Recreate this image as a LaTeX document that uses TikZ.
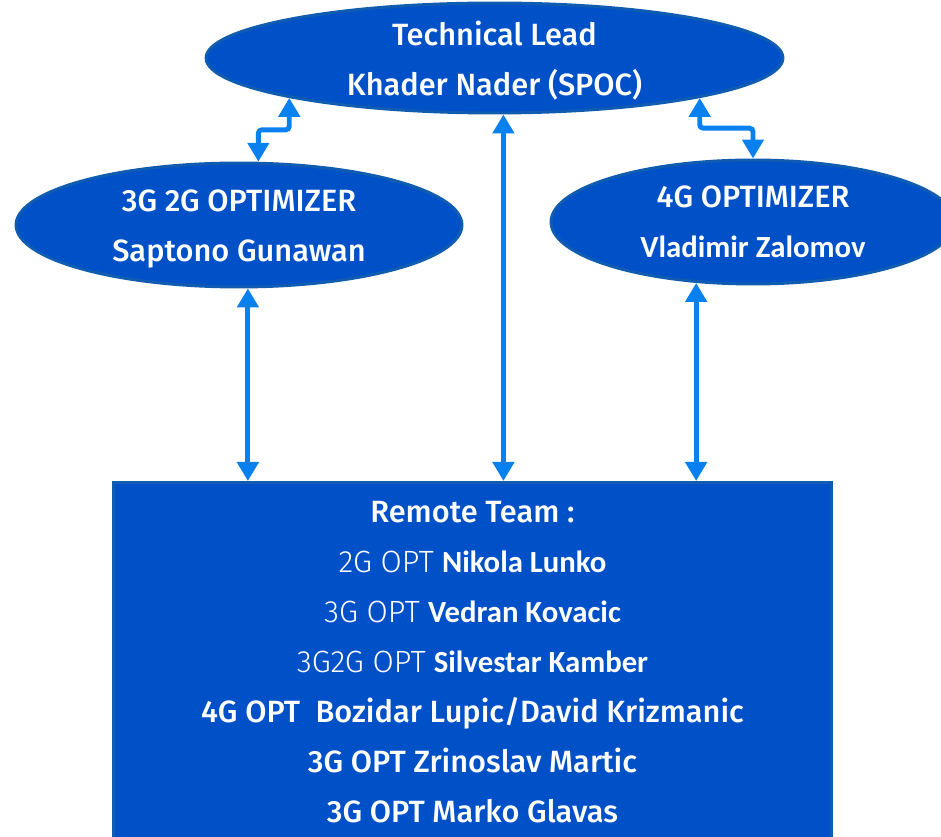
\documentclass[tikz,border=0pt]{standalone}
\usepackage{fontspec}
\setmainfont{Fira Sans}[BoldFont={Fira Sans Medium}]
\newfontfamily\lightfont{Fira Sans Light}
\newfontfamily\namefont{Carlito}
\usetikzlibrary{arrows.meta, calc, shapes.geometric}
\definecolor{teamBlue}{RGB}{0,80,200}
\definecolor{teamEdge}{RGB}{16,92,176}
\definecolor{linkBlue}{RGB}{8,128,240}
\newcommand{\person}[1]{{\namefont\bfseries\fontsize{17.5}{28.45}\selectfont #1}}
\newcommand{\opt}[1]{{\lightfont #1}}
\newcommand{\tall}{\rule{0pt}{17pt}}
\tikzset{
  role/.style={ellipse, draw=teamEdge, line width=1.7pt, fill=teamBlue, text=white,
    inner xsep=0pt, inner ysep=-6pt, align=center, font=\fontsize{17.5}{28.45}\selectfont\bfseries},
  team/.style={rectangle, draw=teamEdge, line width=1.7pt, fill=teamBlue, text=white,
    align=center, font=\fontsize{17.5}{28.45}\selectfont},
  link/.style={line width=2.8pt, linkBlue, rounded corners=2pt,
    {Triangle[width=0.42cm,length=0.38cm]}-{Triangle[width=0.42cm,length=0.38cm]}},
}

\begin{document}
\begin{tikzpicture}[x=0.02cm, y=-0.02cm]
  \path[use as bounding box] (0,0) rectangle (941,837);
  \clip (0,0) rectangle (941,837);

  \node[role, minimum width=11.54cm, minimum height=2.2cm] (lead) at (494.5,58)
    {\tall Technical Lead\\Khader Nader (SPOC)};
  \node[role, minimum width=8.92cm, minimum height=2.48cm] (opt3g) at (239,225)
    {\tall 3G 2G OPTIMIZER\\Saptono Gunawan};
  \node[role, minimum width=8.08cm, minimum height=2.48cm] (opt4g) at (753,222)
    {4G OPTIMIZER\\\person{Vladimir Zalomov}};
  \node[team, minimum width=14.38cm, minimum height=7.18cm, anchor=north] (remote) at (472.5,481)
    {{\bfseries Remote Team :}\\
     \opt{2G OPT} \person{Nikola Lunko}\\
     \opt{3G OPT} \person{Vedran Kovacic}\\
     \opt{3G2G OPT} \person{Silvestar Kamber}\\
     {\bfseries 4G OPT\ \ Bozidar Lupic/David Krizmanic}\\
     {\bfseries 3G OPT Zrinoslav Martic}\\
     {\bfseries 3G OPT Marko Glavas}};

  % links
  \draw[link] (lead.191) |- ($(lead.191)!0.5!(opt3g.73)$) -| (opt3g.73);
  \draw[link] (lead.349) |- ($(lead.349)!0.5!(opt4g.north)$) -| (opt4g.north);
  \draw[link] (lead.279) -- (lead.279 |- remote.north);
  \draw[link] (opt3g.278) -- (opt3g.278 |- remote.north);
  \draw[link] (opt4g.227) -- (opt4g.227 |- remote.north);
\end{tikzpicture}
\end{document}
